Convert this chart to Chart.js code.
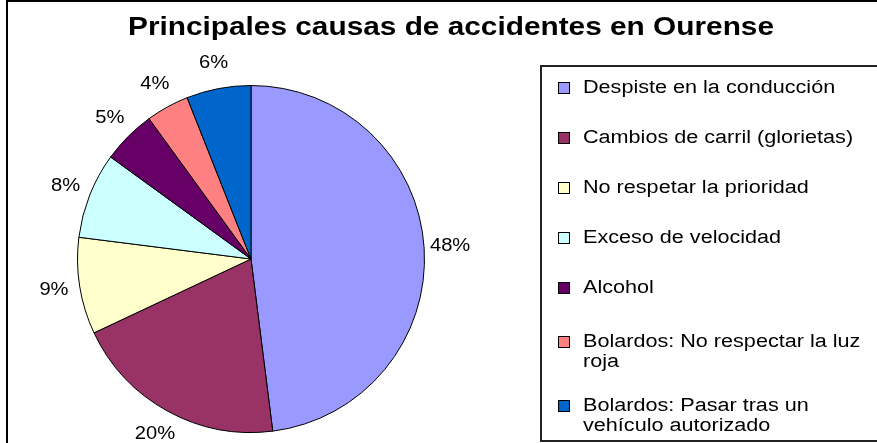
<!DOCTYPE html>
<html>
<head>
<meta charset="utf-8">
<script src="https://cdn.jsdelivr.net/npm/chart.js@4/dist/chart.umd.min.js"></script>
<style>
  body { margin: 0; background: #fff; }
  canvas { display: block; }
</style>
</head>
<body>
<canvas id="pieChart" width="877" height="443"></canvas>
<script>
// Chart data
const chartTitle = 'Principales causas de accidentes en Ourense';
const causes = [
    'Despiste en la conducción',
    'Cambios de carril (glorietas)',
    'No respetar la prioridad',
    'Exceso de velocidad',
    'Alcohol',
    'Bolardos: No respectar la luz roja',
    'Bolardos: Pasar tras un vehículo autorizado'
];
const percentages = [48, 20, 9, 8, 5, 4, 6];
const sliceColors = ['#9999FF', '#993366', '#FFFFCC', '#CCFFFF', '#660066', '#FF8080', '#0066CC'];

const FONT = '"Liberation Sans", Arial, sans-serif';

// draw text stretched horizontally (old Excel bitmap fonts are wide)
function drawText(ctx, text, x, y, align, sx) {
    ctx.save();
    ctx.translate(x, y);
    ctx.scale(sx, 1);
    ctx.textAlign = align;
    ctx.fillText(text, 0, 0);
    ctx.restore();
}

function wrapText(ctx, text, maxWidth, sx) {
    const words = text.split(' ');
    const lines = [];
    let line = '';
    words.forEach(word => {
        const test = line ? line + ' ' + word : word;
        if (line && ctx.measureText(test).width * sx > maxWidth) {
            lines.push(line);
            line = word;
        } else {
            line = test;
        }
    });
    if (line) lines.push(line);
    return lines;
}

// Background, frame and title
const framePlugin = {
    id: 'frame',
    beforeDraw(chart) {
        const ctx = chart.ctx;
        ctx.save();
        ctx.fillStyle = '#fff';
        ctx.fillRect(0, 0, chart.width, chart.height);
        ctx.strokeStyle = '#000';
        ctx.lineWidth = 2;
        ctx.strokeRect(7, 1, chart.width + 20, chart.height + 20);

        ctx.fillStyle = '#000';
        ctx.font = 'bold 25px ' + FONT;
        ctx.textBaseline = 'middle';
        const sx = 646 / ctx.measureText(chartTitle).width;
        drawText(ctx, chartTitle, 451, 28, 'center', sx);
        ctx.restore();
    }
};

// Percentage labels outside each slice
const labelPlugin = {
    id: 'sliceLabels',
    afterDatasetsDraw(chart) {
        const ctx = chart.ctx;
        const arcs = chart.getDatasetMeta(0).data;
        ctx.save();
        ctx.fillStyle = '#000';
        ctx.font = '18px ' + FONT;
        ctx.textBaseline = 'middle';
        arcs.forEach((arc, i) => {
            const p = arc.getProps(['x', 'y', 'startAngle', 'endAngle', 'outerRadius'], true);
            const mid = (p.startAngle + p.endAngle) / 2;
            const r = p.outerRadius + 26;
            drawText(ctx, percentages[i] + '%', p.x + Math.cos(mid) * r, p.y + Math.sin(mid) * r, 'center', 1.12);
        });
        ctx.restore();
    }
};

// Legend box on the right
const legendPlugin = {
    id: 'boxLegend',
    afterDraw(chart) {
        const ctx = chart.ctx;
        const sx = 1.2;
        ctx.save();
        ctx.strokeStyle = '#222';
        ctx.lineWidth = 2;
        ctx.strokeRect(541, 66, chart.width, 375);

        ctx.font = '18px ' + FONT;
        ctx.textBaseline = 'middle';
        let y = 88;
        causes.forEach((label, i) => {
            ctx.fillStyle = sliceColors[i];
            ctx.fillRect(558.5, y - 5.5, 11, 11);
            ctx.strokeStyle = '#000';
            ctx.lineWidth = 1;
            ctx.strokeRect(558.5, y - 5.5, 11, 11);
            ctx.fillStyle = '#000';
            const lines = wrapText(ctx, label, 288, sx);
            lines.forEach((line, j) => drawText(ctx, line, 583, y + j * 20, 'left', sx));
            // two-line entries sit a little lower in the box
            y += lines.length * 20 + (lines.length > 1 ? 24 : 30) + (i === 4 ? 4 : 0);
        });
        ctx.restore();
    }
};

const ctx = document.getElementById('pieChart').getContext('2d');
const chart = new Chart(ctx, {
    type: 'pie',
    data: {
        labels: causes,
        datasets: [{
            data: percentages,
            backgroundColor: sliceColors,
            borderColor: '#000',
            borderWidth: 1,
            hoverOffset: 0
        }]
    },
    options: {
        responsive: false,
        animation: false,
        events: [],
        layout: {
            padding: { left: 77, top: 85, right: 452, bottom: 10 }
        },
        plugins: {
            legend: { display: false },
            title: { display: false },
            tooltip: { enabled: false }
        }
    },
    plugins: [framePlugin, labelPlugin, legendPlugin]
});
</script>
</body>
</html>
